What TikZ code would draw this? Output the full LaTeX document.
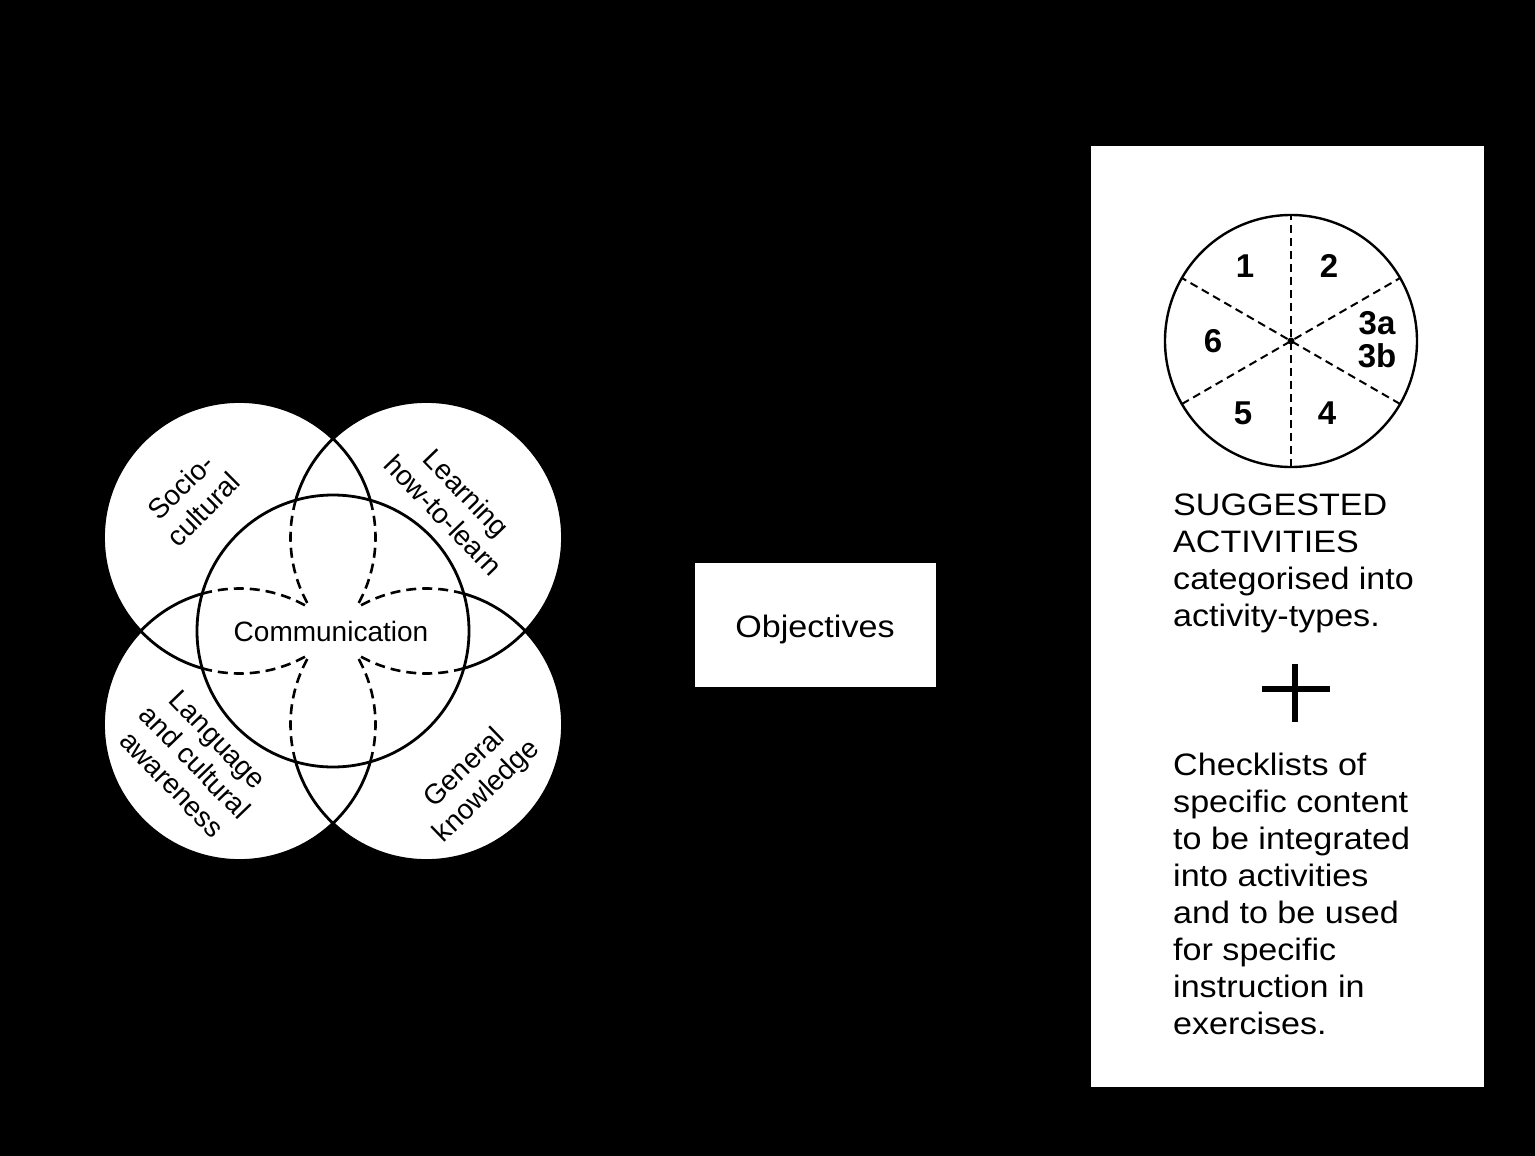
\documentclass[tikz,border=0pt]{standalone}
\usepackage{fontspec}
\setmainfont{Liberation Sans}
\newfontfamily\panelFont{Liberation Sans}[FakeStretch=1.1]
\newcommand{\vennSize}{\fontsize{28}{32}\selectfont}
\newcommand{\panelSize}{\panelFont\fontsize{31}{37}\selectfont}

\begin{document}
\begin{tikzpicture}[x=1pt,y=-1pt,
  ring/.style={line width=2.8pt},
  lensline/.style={line width=2.6pt, dash pattern=on 10pt off 6pt},
  slice/.style={line width=2pt, dash pattern=on 8pt off 5pt},
  vennlabel/.style={align=center, inner sep=0pt, font=\vennSize},
  num/.style={inner sep=0pt, align=center, font=\bfseries\fontsize{33}{33}\selectfont},
  blurb/.style={anchor=base west, inner sep=0pt, align=left, font=\panelSize}]
\fill[black] (0,0) rectangle (1535,1156);

% venn of the five fields
\coordinate (hub) at (333,631);
\coordinate (tl) at (239.5,537.5);
\coordinate (tr) at (426.5,537.5);
\coordinate (bl) at (239.5,724.5);
\coordinate (br) at (426.5,724.5);
\foreach \c in {tl,tr,bl,br} \fill[white] (\c) circle[radius=136];
\foreach \c in {tl,tr,bl,br} \draw[ring] (\c) circle[radius=136];
\filldraw[ring, fill=white] (hub) circle[radius=136];
\draw[lensline] (tl) ++(-15.9:136) arc[start angle=-15.9, end angle=30, radius=136];
\draw[lensline] (tl) ++(105.9:136) arc[start angle=105.9, end angle=60, radius=136];
\draw[lensline] (tr) ++(195.9:136) arc[start angle=195.9, end angle=150, radius=136];
\draw[lensline] (tr) ++(74.1:136) arc[start angle=74.1, end angle=120, radius=136];
\draw[lensline] (bl) ++(15.9:136) arc[start angle=15.9, end angle=-30, radius=136];
\draw[lensline] (bl) ++(-105.9:136) arc[start angle=-105.9, end angle=-60, radius=136];
\draw[lensline] (br) ++(-195.9:136) arc[start angle=-195.9, end angle=-150, radius=136];
\draw[lensline] (br) ++(-74.1:136) arc[start angle=-74.1, end angle=-120, radius=136];

\node[vennlabel] (comm) at (331,631) {Communication};
\node[vennlabel, rotate=45] (socio) at (192,498) {Socio-\\cultural};
\node[vennlabel, rotate=-46] (learn) at (455,504) {Learning\\how-to-learn};
\node[vennlabel, rotate=-46] (lang) at (195,762) {Language\\and cultural\\awareness};
\node[vennlabel, rotate=44] (gen) at (476,780) {General\\knowledge};

% middle box
\node[fill=white, minimum width=241pt, minimum height=124pt, font=\panelFont\fontsize{31}{34}\selectfont] (obj) at (815.5,625) {};
\node[font=\panelFont\fontsize{31}{34}\selectfont, inner sep=0pt] (objtext) at (815,629) {Objectives};

% right panel
\fill[white] (1091,146) rectangle (1484,1087);
\coordinate (pie) at (1291,341);
\draw[line width=2.4pt] (pie) circle[radius=126];
\foreach \a in {30,90,150}
  \draw[slice] (pie) ++(\a:126) -- ++(\a+180:252);
\fill (pie) circle[radius=3.5];
\node[num] (n1) at (1245,266) {1};
\node[num] (n2) at (1329,266) {2};
\node[num] (n3) at (1377,340) {3a\\3b};
\node[num] (n4) at (1327,413) {4};
\node[num] (n5) at (1243,413) {5};
\node[num] (n6) at (1213,341) {6};

% base anchor sits on the last line
\node[blurb] (sugg) at (1173,626) {SUGGESTED\\ACTIVITIES\\categorised into\\activity-types.};
\fill (1262,686) rectangle (1330,692);
\fill (1292,664) rectangle (1298,722);
\node[blurb] (check) at (1173,1034) {Checklists of\\specific content\\to be integrated\\into activities\\and to be used\\for specific\\instruction in\\exercises.};
\end{tikzpicture}
\end{document}
